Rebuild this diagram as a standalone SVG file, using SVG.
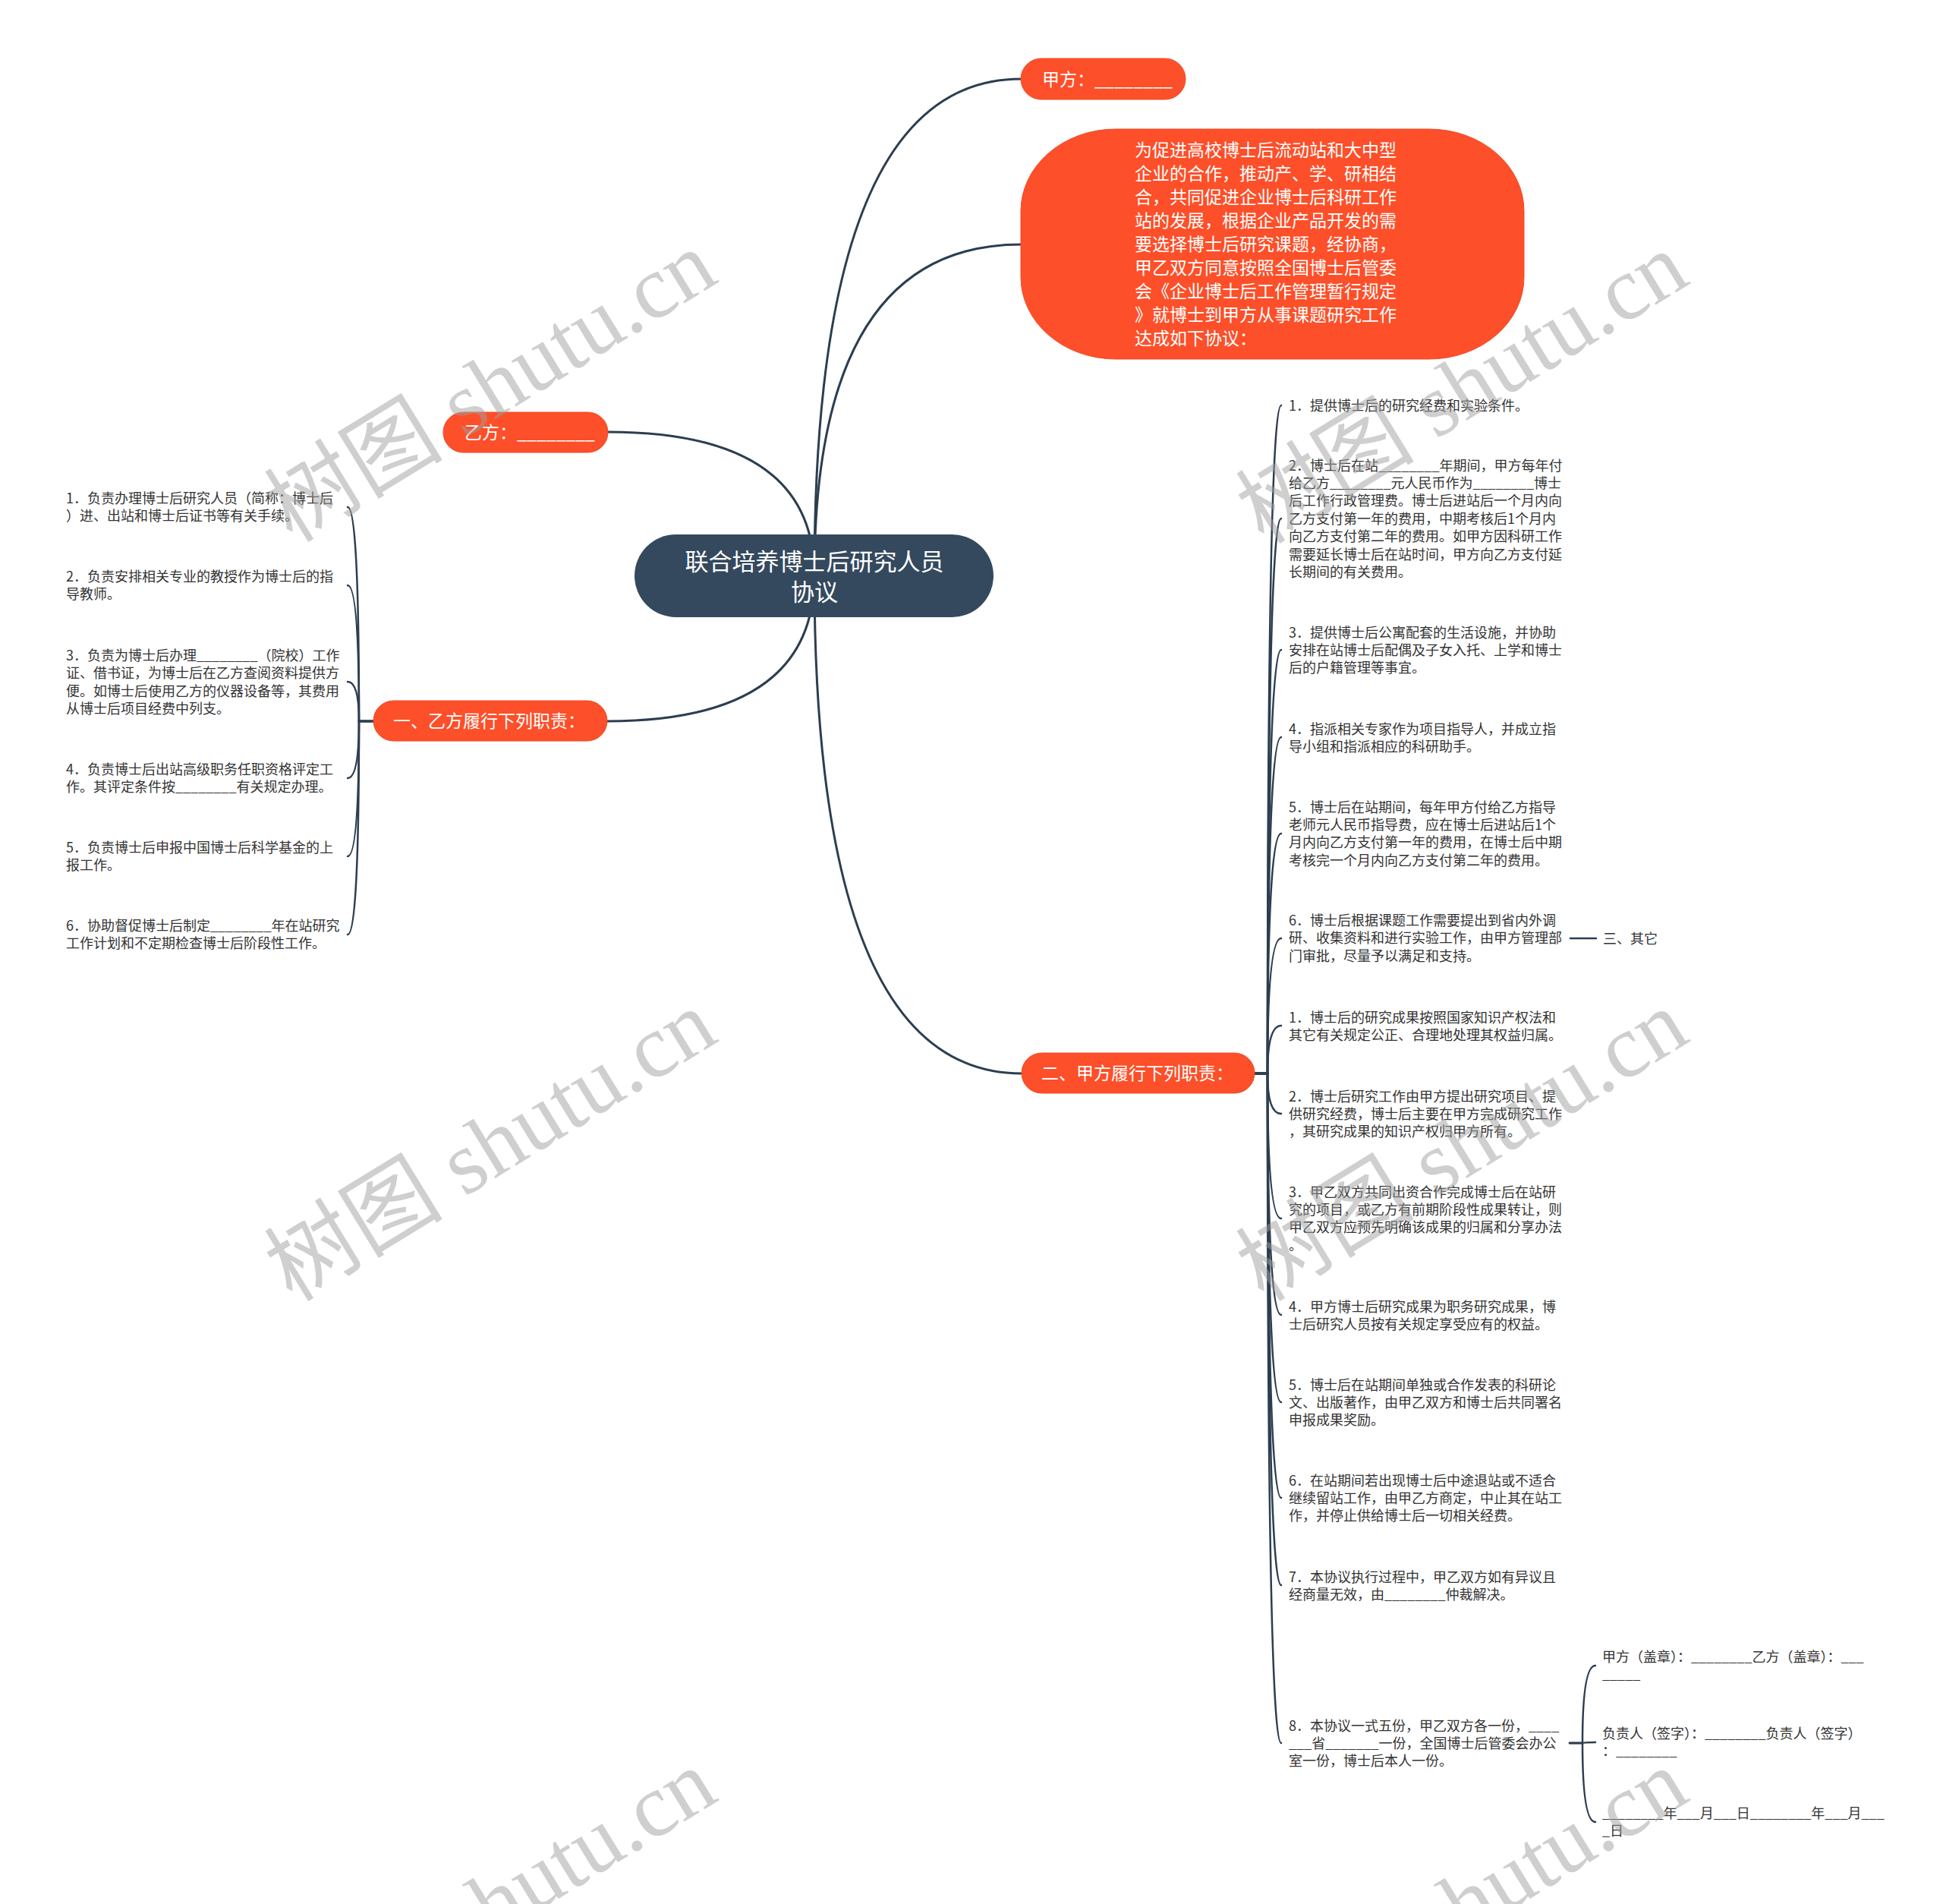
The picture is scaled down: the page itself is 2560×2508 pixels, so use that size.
<svg xmlns="http://www.w3.org/2000/svg" width="2560" height="2508" viewBox="0 0 2560 2508">
<style>
.main{fill:none;stroke:#2c3e50;stroke-width:3;stroke-linecap:round}
.sub{fill:none;stroke:#2c3e50;stroke-width:2.5;stroke-linecap:round}
.orange{fill:#fd4f29;stroke:#f04a26;stroke-width:1}
.rootbox{fill:#34495e}
.t1{font-family:"Noto Sans CJK SC","Noto Sans",sans-serif;font-size:23px;fill:#ffffff}
.t0{font-family:"Noto Sans CJK SC","Noto Sans",sans-serif;font-size:31px;fill:#ffffff}
.leaf{font-family:"Noto Sans CJK SC","Noto Sans",sans-serif;font-size:18px;fill:#333333}
.wm{font-family:"Liberation Serif","Noto Sans CJK SC",serif;font-size:118px;fill:#a0a0a0;opacity:0.5}
</style>
<rect width="2560" height="2508" fill="#ffffff"/>
<g id="connectors">
<path class="main" d="M1073,758 Q1073,104 1345,104"/>
<path class="main" d="M1073,758 Q1073,322 1345,322"/>
<path class="main" d="M1073,758 Q1073,569 801,569"/>
<path class="main" d="M1073,758 Q1073,950 800,950"/>
<path class="main" d="M1073,758 Q1073,1414 1346,1414"/>
<g id="left-bracket">
<path class="sub" d="M492,950 L473,950 Q473,668 458,668"/>
<path class="sub" d="M492,950 L473,950 Q473,771 458,771"/>
<path class="sub" d="M492,950 L473,950 Q473,898 458,898"/>
<path class="sub" d="M492,950 L473,950 Q473,1025 458,1025"/>
<path class="sub" d="M492,950 L473,950 Q473,1128 458,1128"/>
<path class="sub" d="M492,950 L473,950 Q473,1231 458,1231"/>
</g>
<g id="right-bracket">
<path class="sub" d="M1653,1414 L1670,1414 Q1670,534 1688,534"/>
<path class="sub" d="M1653,1414 L1670,1414 Q1670,683 1688,683"/>
<path class="sub" d="M1653,1414 L1670,1414 Q1670,856 1688,856"/>
<path class="sub" d="M1653,1414 L1670,1414 Q1670,971 1688,971"/>
<path class="sub" d="M1653,1414 L1670,1414 Q1670,1098 1688,1098"/>
<path class="sub" d="M1653,1414 L1670,1414 Q1670,1236 1688,1236"/>
<path class="sub" d="M1653,1414 L1670,1414 Q1670,1351 1688,1351"/>
<path class="sub" d="M1653,1414 L1670,1414 Q1670,1467 1688,1467"/>
<path class="sub" d="M1653,1414 L1670,1414 Q1670,1605 1688,1605"/>
<path class="sub" d="M1653,1414 L1670,1414 Q1670,1732 1688,1732"/>
<path class="sub" d="M1653,1414 L1670,1414 Q1670,1847 1688,1847"/>
<path class="sub" d="M1653,1414 L1670,1414 Q1670,1973 1688,1973"/>
<path class="sub" d="M1653,1414 L1670,1414 Q1670,2088 1688,2088"/>
<path class="sub" d="M1653,1414 L1670,1414 Q1670,2296 1688,2296"/>
</g>
<path class="sub" d="M2069,1236 L2103,1236"/>
<g id="sign-bracket">
<path class="sub" d="M2068,2296 L2085,2296 Q2085,2194 2102,2194"/>
<path class="sub" d="M2068,2296 L2085,2296 Q2085,2295 2102,2295"/>
<path class="sub" d="M2068,2296 L2085,2296 Q2085,2400 2102,2400"/>
</g>
</g>

<g id="root">
<rect class="rootbox" x="836" y="704" width="473" height="109" rx="54.5"/>
<text class="t0" text-anchor="middle"><tspan x="1073" y="751">联合培养博⼠后研究人员</tspan><tspan x="1073" y="791">协议</tspan></text>
</g>

<g id="n-jiafang">
<rect class="orange" x="1345" y="77" width="217" height="54" rx="27"/>
<text class="t1" x="1373" y="113">甲方：________</text>
</g>

<g id="n-preamble">
<rect class="orange" x="1345" y="170" width="663" height="303" rx="125" ry="108"/>
<text class="t1">
<tspan x="1495" y="206">为促进高校博士后流动站和大中型</tspan>
<tspan x="1495" y="237">企业的合作，推动产、学、研相结</tspan>
<tspan x="1495" y="268">合，共同促进企业博士后科研工作</tspan>
<tspan x="1495" y="299">站的发展，根据企业产品开发的需</tspan>
<tspan x="1495" y="330">要选择博士后研究课题，经协商，</tspan>
<tspan x="1495" y="361">甲乙双方同意按照全国博士后管委</tspan>
<tspan x="1495" y="392">会《企业博士后工作管理暂行规定</tspan>
<tspan x="1495" y="423">》就博士到甲方从事课题研究工作</tspan>
<tspan x="1495" y="454">达成如下协议：</tspan>
</text>
</g>

<g id="n-yifang">
<rect class="orange" x="584" y="543" width="217" height="53" rx="26.5"/>
<text class="t1" x="612" y="578">乙方：________</text>
</g>

<g id="n-yi-duties">
<rect class="orange" x="492" y="923" width="308" height="53" rx="26.5"/>
<text class="t1" x="518" y="958">一、乙方履行下列职责：</text>
</g>

<g id="n-jia-duties">
<rect class="orange" x="1346" y="1387" width="307" height="53" rx="26.5"/>
<text class="t1" x="1372" y="1422">二、甲方履行下列职责：</text>
</g>

<g id="left-leaves">
<g id="l1"><text class="leaf"><tspan x="87" y="663">1．负责办理博士后研究人员（简称：博士后</tspan><tspan x="87" y="686.4">）进、出站和博士后证书等有关手续。</tspan></text></g>
<g id="l2"><text class="leaf"><tspan x="87" y="766">2．负责安排相关专业的教授作为博士后的指</tspan><tspan x="87" y="789.4">导教师。</tspan></text></g>
<g id="l3"><text class="leaf"><tspan x="87" y="870">3．负责为博士后办理________（院校）工作</tspan><tspan x="87" y="893.4">证、借书证，为博士后在乙方查阅资料提供方</tspan><tspan x="87" y="916.8">便。如博士后使用乙方的仪器设备等，其费用</tspan><tspan x="87" y="940.2">从博士后项目经费中列支。</tspan></text></g>
<g id="l4"><text class="leaf"><tspan x="87" y="1020">4．负责博士后出站高级职务任职资格评定工</tspan><tspan x="87" y="1043.4">作。其评定条件按________有关规定办理。</tspan></text></g>
<g id="l5"><text class="leaf"><tspan x="87" y="1123">5．负责博士后申报中国博士后科学基金的上</tspan><tspan x="87" y="1146.4">报工作。</tspan></text></g>
<g id="l6"><text class="leaf"><tspan x="87" y="1226">6．协助督促博士后制定________年在站研究</tspan><tspan x="87" y="1249.4">工作计划和不定期检查博士后阶段性工作。</tspan></text></g>
</g>

<g id="right-leaves">
<g id="r1"><text class="leaf"><tspan x="1698" y="540.5">1．提供博士后的研究经费和实验条件。</tspan></text></g>
<g id="r2"><text class="leaf"><tspan x="1698" y="619.5">2．博士后在站________年期间，甲方每年付</tspan><tspan x="1698" y="642.9">给乙方________元人民币作为________博士</tspan><tspan x="1698" y="666.3">后工作行政管理费。博士后进站后一个月内向</tspan><tspan x="1698" y="689.7">乙方支付第一年的费用，中期考核后1个月内</tspan><tspan x="1698" y="713.1">向乙方支付第二年的费用。如甲方因科研工作</tspan><tspan x="1698" y="736.5">需要延长博士后在站时间，甲方向乙方支付延</tspan><tspan x="1698" y="759.9">长期间的有关费用。</tspan></text></g>
<g id="r3"><text class="leaf"><tspan x="1698" y="839.5">3．提供博士后公寓配套的生活设施，并协助</tspan><tspan x="1698" y="862.9">安排在站博士后配偶及子女入托、上学和博士</tspan><tspan x="1698" y="886.3">后的户籍管理等事宜。</tspan></text></g>
<g id="r4"><text class="leaf"><tspan x="1698" y="966.5">4．指派相关专家作为项目指导人，并成立指</tspan><tspan x="1698" y="989.9">导小组和指派相应的科研助手。</tspan></text></g>
<g id="r5"><text class="leaf"><tspan x="1698" y="1069.5">5．博士后在站期间，每年甲方付给乙方指导</tspan><tspan x="1698" y="1092.9">老师元人民币指导费，应在博士后进站后1个</tspan><tspan x="1698" y="1116.3">月内向乙方支付第一年的费用，在博士后中期</tspan><tspan x="1698" y="1139.7">考核完一个月内向乙方支付第二年的费用。</tspan></text></g>
<g id="r6"><text class="leaf"><tspan x="1698" y="1219">6．博士后根据课题工作需要提出到省内外调</tspan><tspan x="1698" y="1242.4">研、收集资料和进行实验工作，由甲方管理部</tspan><tspan x="1698" y="1265.8">门审批，尽量予以满足和支持。</tspan></text></g>
<g id="r6a"><text class="leaf" x="2112" y="1242.5">三、其它</text></g>
<g id="r7"><text class="leaf"><tspan x="1698" y="1346.5">1．博士后的研究成果按照国家知识产权法和</tspan><tspan x="1698" y="1369.9">其它有关规定公正、合理地处理其权益归属。</tspan></text></g>
<g id="r8"><text class="leaf"><tspan x="1698" y="1450.5">2．博士后研究工作由甲方提出研究项目、提</tspan><tspan x="1698" y="1473.9">供研究经费，博士后主要在甲方完成研究工作</tspan><tspan x="1698" y="1497.3">，其研究成果的知识产权归甲方所有。</tspan></text></g>
<g id="r9"><text class="leaf"><tspan x="1698" y="1576.5">3．甲乙双方共同出资合作完成博士后在站研</tspan><tspan x="1698" y="1599.9">究的项目，或乙方有前期阶段性成果转让，则</tspan><tspan x="1698" y="1623.3">甲乙双方应预先明确该成果的归属和分享办法</tspan><tspan x="1698" y="1646.7">。</tspan></text></g>
<g id="r10"><text class="leaf"><tspan x="1698" y="1727.5">4．甲方博士后研究成果为职务研究成果，博</tspan><tspan x="1698" y="1750.9">士后研究人员按有关规定享受应有的权益。</tspan></text></g>
<g id="r11"><text class="leaf"><tspan x="1698" y="1830.5">5．博士后在站期间单独或合作发表的科研论</tspan><tspan x="1698" y="1853.9">文、出版著作，由甲乙双方和博士后共同署名</tspan><tspan x="1698" y="1877.3">申报成果奖励。</tspan></text></g>
<g id="r12"><text class="leaf"><tspan x="1698" y="1956.5">6．在站期间若出现博士后中途退站或不适合</tspan><tspan x="1698" y="1979.9">继续留站工作，由甲乙方商定，中止其在站工</tspan><tspan x="1698" y="2003.3">作，并停止供给博士后一切相关经费。</tspan></text></g>
<g id="r13"><text class="leaf"><tspan x="1698" y="2083.5">7．本协议执行过程中，甲乙双方如有异议且</tspan><tspan x="1698" y="2106.9">经商量无效，由________仲裁解决。</tspan></text></g>
<g id="r14"><text class="leaf"><tspan x="1698" y="2279.5">8．本协议一式五份，甲乙双方各一份，____</tspan><tspan x="1698" y="2302.9">___省_______一份，全国博士后管委会办公</tspan><tspan x="1698" y="2326.3">室一份，博士后本人一份。</tspan></text></g>
</g>

<g id="sign-leaves">
<g id="s1"><text class="leaf"><tspan x="2111" y="2188.5">甲方（盖章）：________乙方（盖章）：___</tspan><tspan x="2111" y="2211.9">_____</tspan></text></g>
<g id="s2"><text class="leaf"><tspan x="2111" y="2289.5">负责人（签字）：________负责人（签字）</tspan><tspan x="2111" y="2312.9">：________</tspan></text></g>
<g id="s3"><text class="leaf"><tspan x="2111" y="2394.5">________年___月___日________年___月___</tspan><tspan x="2111" y="2417.9">_日</tspan></text></g>
</g>

<g id="watermarks">
<text class="wm" transform="translate(385,716) rotate(-31.5)">树图 shutu.cn</text>
<text class="wm" transform="translate(1665,718) rotate(-31.5)">树图 shutu.cn</text>
<text class="wm" transform="translate(385,1716) rotate(-31.5)">树图 shutu.cn</text>
<text class="wm" transform="translate(1665,1716) rotate(-31.5)">树图 shutu.cn</text>
<text class="wm" transform="translate(385,2716) rotate(-31.5)">树图 shutu.cn</text>
<text class="wm" transform="translate(1665,2716) rotate(-31.5)">树图 shutu.cn</text>
</g>
</svg>
